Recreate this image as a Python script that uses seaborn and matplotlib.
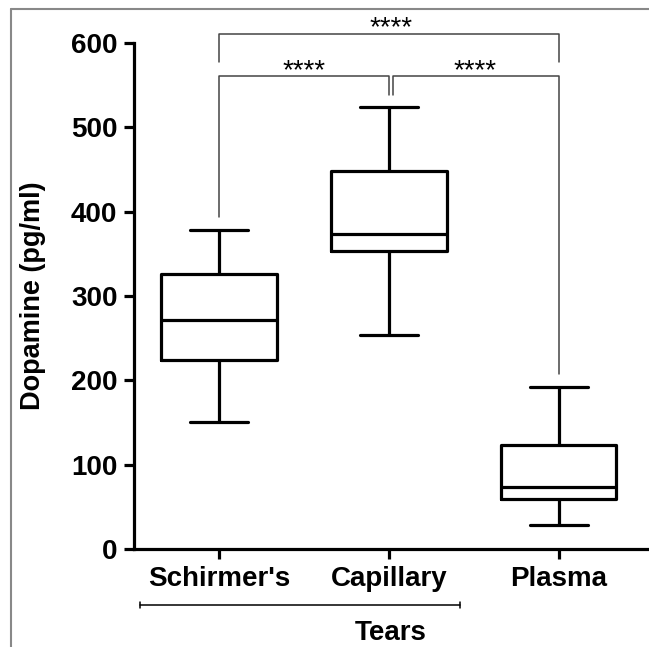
import pandas as pd
import numpy as np
import matplotlib
matplotlib.use("Agg")
import matplotlib.pyplot as plt
import matplotlib.lines as mlines
import seaborn as sns

# min, Q1, median, Q3, max
groups = ["Schirmer's", "Capillary", "Plasma"]
schirmer = [151, 224, 272, 326, 378]
capillary = [254, 353, 374, 448, 524]
plasma = [29, 59, 74, 123, 192]
y_ticks = [0, 100, 200, 300, 400, 500, 600]

df = pd.DataFrame({
    "group": np.repeat(groups, 5),
    "dopamine": schirmer + capillary + plasma,
})

sns.set_style("ticks")
plt.rcParams["font.family"] = ["Liberation Sans", "DejaVu Sans"]
plt.rcParams["text.color"] = "black"
plt.rcParams["axes.labelcolor"] = "black"
plt.rcParams["xtick.color"] = "black"
plt.rcParams["ytick.color"] = "black"

fig = plt.figure(figsize=(6.49, 6.47), dpi=100)
ax = fig.add_axes([0.2065, 0.1515, 0.7905, 0.7820])

sns.boxplot(data=df, x="group", y="dopamine", order=groups, whis=(0, 100),
            width=0.68, fill=False, color="black", linecolor="black",
            linewidth=2.3, ax=ax)

# white boxes / black lines
for p in ax.patches:
    p.set_facecolor("white")
    p.set_edgecolor("black")

ax.set_ylim(0, 600)
ax.set_xlim(-0.5, 2.52)
ax.set_yticks(y_ticks)
ax.set_yticklabels([str(v) for v in y_ticks])
ax.tick_params(axis="both", width=2.3, length=7, color="black", pad=5)
ax.tick_params(axis="y", labelsize=20)
ax.tick_params(axis="x", labelsize=20, pad=5)
for lab in ax.get_xticklabels() + ax.get_yticklabels():
    lab.set_fontweight("bold")
for s in ["left", "bottom"]:
    ax.spines[s].set_linewidth(2.3)
    ax.spines[s].set_color("black")
sns.despine(ax=ax)

ax.set_ylabel("Dopamine (pg/ml)", fontsize=19.5, fontweight="bold", labelpad=18)
ax.set_xlabel("Tears", fontsize=20, fontweight="bold", labelpad=20.5)

# significance brackets
gray = "#444444"
kw = dict(color=gray, lw=1.1, clip_on=False)
ax.plot([0, 0, 2, 2], [577, 611, 611, 577], **kw)
ax.plot([0, 0, 1.0, 1.0], [394, 561, 561, 538], **kw)
ax.plot([1.025, 1.025, 2, 2], [538, 561, 561, 208], **kw)
ax.text(1.01, 617, "****", ha="center", va="center", fontsize=20)
ax.text(0.5, 567, "****", ha="center", va="center", fontsize=20)
ax.text(1.51, 567, "****", ha="center", va="center", fontsize=20)

# "Tears" grouping line under the first two categories
trans = ax.get_xaxis_transform()
ax.plot([-0.465, 1.418], [-0.111, -0.111], color="black", lw=1.1,
        transform=trans, clip_on=False)
for xe in [-0.465, 1.418]:
    ax.plot([xe, xe], [-0.117, -0.105], color="black", lw=1.1,
            transform=trans, clip_on=False)

# gray frame remnants at left and top
fig.add_artist(mlines.Line2D([11 / 649, 11 / 649], [0, 1 - 9 / 647],
                             color="#888888", lw=1.5))
fig.add_artist(mlines.Line2D([11 / 649, 1], [1 - 9 / 647, 1 - 9 / 647],
                             color="#888888", lw=1.5))

fig.savefig("out.png", dpi=100)
